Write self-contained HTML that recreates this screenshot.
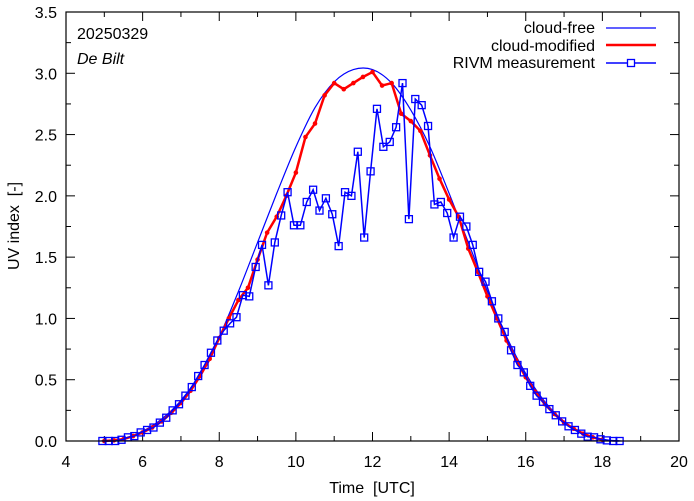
<!DOCTYPE html>
<html><head><meta charset="utf-8"><style>
body{margin:0;background:#fff;}
svg{display:block;font-family:"Liberation Sans",sans-serif;}
</style></head><body>
<svg id="chart" width="694" height="501"></svg>
<script>
const measTimeStart = 4.95, measTimeStep = 1/6;
const measValues = [0,0,0,0.01,0.03,0.04,0.07,0.09,0.11,0.15,0.19,0.25,0.30,0.37,0.44,0.53,0.62,0.72,0.82,0.90,0.96,1.01,
 1.19,1.18,1.42,1.60,1.27,1.62,1.84,2.03,1.76,1.76,1.95,2.05,1.88,1.98,1.85,1.59,2.03,2.00,2.36,1.66,2.20,2.71,2.40,2.44,2.56,2.92,1.81,2.79,2.74,2.57,1.93,1.95,1.86,1.66,1.83,1.75,
 1.60,1.38,1.30,1.14,1.00,0.89,0.74,0.62,0.56,0.45,0.37,0.32,0.26,0.21,0.16,0.12,0.09,0.06,0.035,0.03,0.014,0.005,0,0];
const modTimes = [5,5.25,5.5,5.75,6,6.25,6.5,6.75,7,7.25,7.5,7.75,8,8.25,8.5,8.75,9,9.25,9.5,9.75,10,10.25,10.5,10.75,11,11.25,11.5,11.75,12,12.25,12.5,12.75,13,13.25,13.5,13.75,14,14.25,14.5,14.75,15,15.25,15.5,15.75,16,16.25,16.5,16.75,17,17.25,17.5,17.75,18];
const modValues = [0,0.005,0.015,0.04,0.07,0.11,0.16,0.23,0.31,0.41,0.53,0.67,0.84,1.0,1.15,1.25,1.48,1.70,1.83,2.0,2.19,2.48,2.59,2.82,2.92,2.87,2.92,2.97,3.01,2.90,2.92,2.67,2.61,2.53,2.33,2.14,1.97,1.83,1.57,1.38,1.18,1.0,0.82,0.66,0.52,0.40,0.30,0.22,0.15,0.10,0.06,0.03,0.01];
const freeTimes = [4.9,5.5,6,6.5,7,7.5,8,8.5,9,9.5,10,10.5,11,11.5,12,12.5,13,13.5,14,14.5,15,15.5,16,16.5,17,17.5,18,18.5];
const freeValues = [0,0.02,0.08,0.18,0.33,0.55,0.85,1.22,1.62,2.02,2.40,2.72,2.93,3.03,3.03,2.92,2.70,2.40,2.02,1.62,1.22,0.85,0.55,0.32,0.16,0.06,0.015,0];
const xTicks = [4,6,8,10,12,14,16,18,20];
const yTicks = [0,0.5,1,1.5,2,2.5,3,3.5];

const L=66,R=679,T=12,B=441;
const X=t=>L+(t-4)/16*(R-L);
const Y=v=>B-v/3.5*(B-T);
const NS="http://www.w3.org/2000/svg";
const svg=document.getElementById('chart');
function mk(tag,attrs,parent){const e=document.createElementNS(NS,tag);for(const k in attrs)e.setAttribute(k,attrs[k]);(parent||svg).appendChild(e);return e;}

for(let t=4;t<=20;t+=1){const major=t%2===0;const l=major?9:5;
 const a=mk('line',{x1:X(t),x2:X(t),y1:B,y2:B-l,stroke:'#000'});
 const b=mk('line',{x1:X(t),x2:X(t),y1:T,y2:T+l,stroke:'#000'});}
for(let v=0;v<=3.5;v+=0.25){const major=Math.abs(v*2-Math.round(v*2))<1e-6;const l=major?9:5;
 const a=mk('line',{x1:L,x2:L+l,y1:Y(v),y2:Y(v),stroke:'#000'});
 const b=mk('line',{x1:R,x2:R-l,y1:Y(v),y2:Y(v),stroke:'#000'});}
xTicks.forEach(t=>{const e=mk('text',{x:X(t),y:467,'text-anchor':'middle','font-size':16});e.textContent=String(t);
 });
yTicks.forEach(v=>{const e=mk('text',{x:57,y:Y(v)+6,'text-anchor':'end','font-size':16});e.textContent=v.toFixed(1);
 });

function smooth(pts){let d=`M${pts[0][0]},${pts[0][1]}`;for(let i=0;i<pts.length-1;i++){const p0=pts[i-1]||pts[i],p1=pts[i],p2=pts[i+1],p3=pts[i+2]||p2;
 d+=` C${p1[0]+(p2[0]-p0[0])/6},${p1[1]+(p2[1]-p0[1])/6} ${p2[0]-(p3[0]-p1[0])/6},${p2[1]-(p3[1]-p1[1])/6} ${p2[0]},${p2[1]}`;}return d;}
const fp=freeTimes.map((t,i)=>[X(t),Y(freeValues[i])]);
const cf=mk('path',{d:smooth(fp),fill:'none',stroke:'#0000ff','stroke-width':1.2});


const mp=modTimes.map((t,i)=>[X(t),Y(modValues[i])]);
const cm=mk('polyline',{points:mp.map(p=>p.join(',')).join(' '),fill:'none',stroke:'#ff0000','stroke-width':2.5});

mp.forEach(p=>{const c=mk('circle',{cx:p[0],cy:p[1],r:2.3,fill:'#ff0000'});});

const rp=measValues.map((v,i)=>[X(measTimeStart+i*measTimeStep),Y(v)]);
const ml=mk('polyline',{points:rp.map(p=>p.join(',')).join(' '),fill:'none',stroke:'#0000ff','stroke-width':1.5});

rp.forEach(p=>{const s=mk('rect',{x:p[0]-3.5,y:p[1]-3.5,width:7,height:7,fill:'none',stroke:'#0000ff','stroke-width':1.3});
 });

const fr=mk('rect',{x:L,y:T,width:R-L,height:B-T,fill:'none',stroke:'#000','stroke-width':1.2});

</script>
<svg style="position:absolute;left:0;top:0" width="694" height="501">
 <g font-family="Liberation Sans, sans-serif" font-size="16">
  <text x="77" y="39">20250329</text>
  <text x="77" y="64" font-style="italic">De Bilt</text>
  <text x="595" y="33" text-anchor="end">cloud-free</text>
  <line x1="606" x2="656" y1="28" y2="28" stroke="#0000ff" stroke-width="1.2"/>
  <text x="595" y="51" text-anchor="end">cloud-modified</text>
  <line x1="606" x2="656" y1="45" y2="45" stroke="#ff0000" stroke-width="2.5"/>
  <text x="595" y="68" text-anchor="end">RIVM measurement</text>
  <line x1="606" x2="656" y1="63" y2="63" stroke="#0000ff" stroke-width="1.5"/>
  <rect x="627.5" y="59.5" width="7" height="7" fill="#fff" stroke="#0000ff" stroke-width="1.3"/>
  <text x="372" y="493" text-anchor="middle">Time&#160;&#160;[UTC]</text>
  <text transform="translate(19,226) rotate(-90)" text-anchor="middle">UV index&#160;&#160;[-]</text>
 </g>
</svg>
</body></html>
